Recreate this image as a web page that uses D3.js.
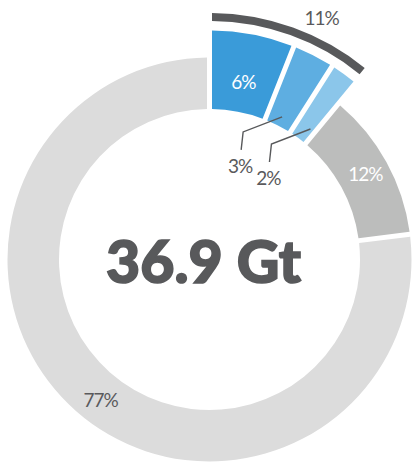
<!DOCTYPE html>
<html>
<head>
<meta charset="utf-8">
<script src="https://cdn.jsdelivr.net/npm/d3@7"></script>
<style>
  html, body { margin: 0; padding: 0; background: #fff; }
  svg { display: block; }
  text { font-family: Lato, "Open Sans", sans-serif; }
</style>
</head>
<body>
<svg id="chart" width="412" height="463"></svg>
<script>
const categories = ["6%", "3%", "2%", "12%", "77%"];
const values = [6, 3, 2, 12, 77];
const highlighted = [true, true, true, false, false];
const groupLabel = "11%";
const totalLabel = "36.9 Gt";

const colors = ["#3a9bd9", "#5eaee1", "#8bc6ea", "#bcbdbc", "#dcdcdc"];
const labelColors = ["#ffffff", "#5a5a5c", "#5a5a5c", "#ffffff", "#5a5a5c"];
const dark = "#58595b";

const cx = 209.5, cy = 259.5;
const rIn = 150.5, rOut = 202, rOutHi = 229;
const pad = 0.025;

const svg = d3.select("#chart");
const g = svg.append("g").attr("transform", `translate(${cx},${cy})`);

const pie = d3.pie().sort(null).value(d => d)(values);
const arc = d3.arc().padAngle(pad).padRadius(200);

g.selectAll("path.slice")
  .data(pie)
  .join("path")
  .attr("class", "slice")
  .attr("fill", (d, i) => colors[i])
  .attr("d", (d, i) => arc({
    startAngle: d.startAngle, endAngle: d.endAngle,
    innerRadius: rIn, outerRadius: highlighted[i] ? rOutHi : rOut
  }));

const hiSlices = pie.filter((d, i) => highlighted[i]);
const gStart = d3.min(hiSlices, d => d.startAngle);
const gEnd = d3.max(hiSlices, d => d.endAngle);
g.append("path")
  .attr("fill", dark)
  .attr("d", arc({ startAngle: gStart, endAngle: gEnd, innerRadius: 238.5, outerRadius: 246.5 }));

const polar = (r, a) => [r * Math.sin(a), -r * Math.cos(a)];

const labelFont = sel => sel
  .attr("text-anchor", "middle")
  .attr("font-size", 19).attr("font-weight", 400)
  .attr("letter-spacing", -1);

const [gx, gy] = polar(266, gStart + (gEnd - gStart) * 0.63);
g.append("text")
  .attr("x", gx).attr("y", gy).attr("dy", "0.36em")
  .attr("fill", "#5a5a5c")
  .call(labelFont)
  .text(groupLabel);

pie.forEach((d, i) => {
  const mid = (d.startAngle + d.endAngle) / 2;
  const small = values[i] < 5;
  let lx, ly;
  if (small) {
    const [sx, sy] = i === 1 ? polar(160, mid) : polar(165, mid + 0.03);
    const pts = [[sx, sy], [sx - 39, sy + 15], [sx - 41, sy + 33]];
    g.append("path")
      .attr("d", d3.line()(pts))
      .attr("fill", "none")
      .attr("stroke", dark)
      .attr("stroke-width", 1.4);
    lx = sx - 42; ly = sy + 49;
  } else {
    const r = highlighted[i] ? 181 : 178;
    const a = values[i] > 50 ? mid - 0.065 : mid;
    [lx, ly] = polar(r, a);
  }
  g.append("text")
    .attr("x", lx).attr("y", ly).attr("dy", "0.36em")
    .attr("fill", labelColors[i])
    .call(labelFont)
    .text(categories[i]);
});

g.append("text")
  .attr("x", -6).attr("y", 23)
  .attr("text-anchor", "middle")
  .attr("fill", "#58595b")
  .attr("stroke", "#58595b").attr("stroke-width", 1.6)
  .attr("font-size", 59).attr("font-weight", 900)
  .text(totalLabel);
</script>
</body>
</html>
